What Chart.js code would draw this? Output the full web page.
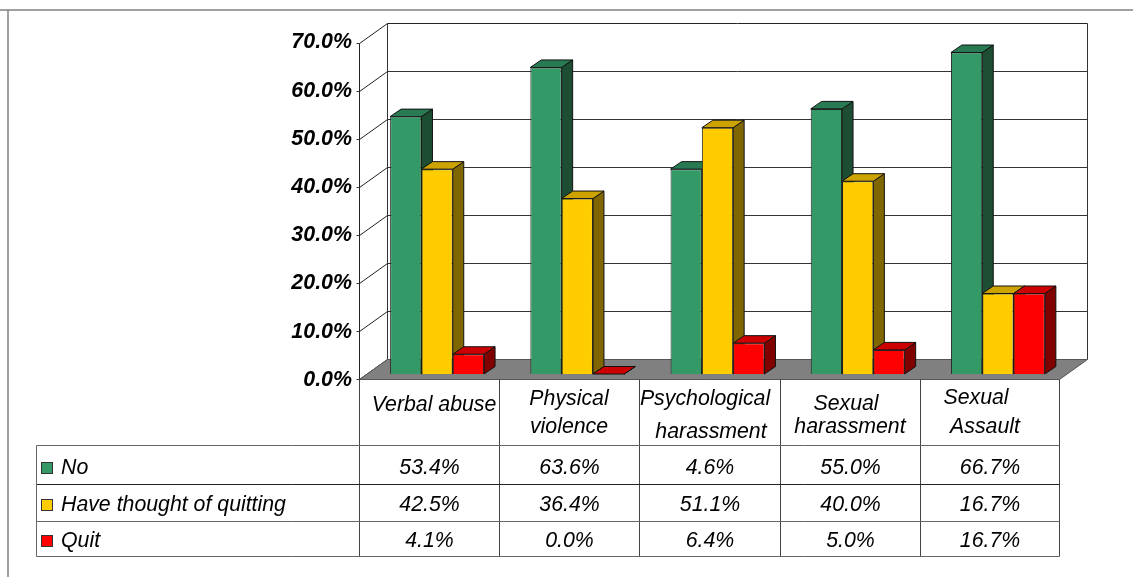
<!DOCTYPE html>
<html><head><meta charset="utf-8">
<style>html,body{margin:0;padding:0;background:#fff}canvas{display:block}</style>
<script src="https://cdn.jsdelivr.net/npm/chart.js@4"></script>
</head><body><canvas id="c" width="1133" height="577"></canvas>
<script>
const categories = ['Verbal abuse','Physical violence','Psychological harassment','Sexual harassment','Sexual Assault'];
const seriesNames = ['No','Have thought of quitting','Quit'];
const noValues = [53.4,63.6,42.5,55.0,66.7];
const thoughtValues = [42.5,36.4,51.1,40.0,16.7];
const quitValues = [4.1,0.0,6.4,5.0,16.7];
const noTable = ['53.4%','63.6%','4.6%','55.0%','66.7%'];
const thoughtTable = ['42.5%','36.4%','51.1%','40.0%','16.7%'];
const quitTable = ['4.1%','0.0%','6.4%','5.0%','16.7%'];
const categoryLines = [['Verbal abuse'],['Physical','violence'],['Psychological','harassment'],['Sexual','harassment'],['Sexual','Assault']];

// layout of the 3D box and table
const catX = [[434],[569,569],[705,711],[846,850],[976,985]];
const catY = [[405.5],[399,427.5],[399,432],[404.5,427],[398,427]];
const front = {dx:-8, dy:5}, back = {dx:20, dy:-15}, depth = {dx:11, dy:-7.5};
const wallRatio = 4.8/4.82;
const rowY = [445.5,484.5,521.5,556.5], colX = [359.5,499.5,639.5,780.5,920.5,1059.5];
const tableLeft = 36.5;
const rowText = [467,504,540];
const FONT = 'Liberation Sans, Arial, sans-serif';
const tableFont = 'italic 21.3px '+FONT;

const shade = {'#339966':['#1d4d33','#287a52'],'#FFCC00':['#806600','#cca300'],'#FF0000':['#800000','#cc0000']};

function line(ctx,x1,y1,x2,y2,c,w){ctx.strokeStyle=c||'#000';ctx.lineWidth=w||1;ctx.beginPath();ctx.moveTo(x1,y1);ctx.lineTo(x2,y2);ctx.stroke();}
function poly(ctx,pts,fill,stroke){ctx.beginPath();pts.forEach((p,i)=>i?ctx.lineTo(p[0],p[1]):ctx.moveTo(p[0],p[1]));ctx.closePath();ctx.fillStyle=fill;ctx.fill();ctx.strokeStyle=stroke;ctx.lineWidth=1;ctx.stroke();}

const box3d = {
  id:'box3d',
  beforeDatasetsDraw(chart){
    const ctx=chart.ctx,y=chart.scales.y,a=chart.chartArea;
    const y0=y.getPixelForValue(0);
    const wall=(v,off)=>Math.round(y0+(y.getPixelForValue(v)-y0)*wallRatio+off)+.5;
    const fl=Math.round(a.left+front.dx)+.5, fr=Math.round(a.right+front.dx-1)+.5;
    const bl=Math.round(a.left+back.dx)+.5, br=Math.round(a.right+back.dx-1)+.5;
    ctx.save();
    // outer frame
    line(ctx,0,10,1133,10,'#808080',1.5);
    line(ctx,8,10,8,577,'#808080',1.5);
    // back wall and grid
    y.ticks.forEach(t=>{
      const fy=wall(t.value,front.dy), by=wall(t.value,back.dy);
      line(ctx,fl-3,fy,fl,fy,'#333');
      line(ctx,fl,fy,bl,by,'#222');
      if(t.value>0) line(ctx,bl,by,br,by,t.value===70?'#222':'#333');
    });
    const f0=wall(0,front.dy), b0=wall(0,back.dy), f7=wall(70,front.dy), b7=wall(70,back.dy);
    line(ctx,fl,f7,fl,f0,'#222');
    line(ctx,bl,b7,bl,b0,'#333');
    line(ctx,br,b7,br,b0,'#333');
    poly(ctx,[[fl,f0],[fr,f0],[br,b0],[bl,b0]],'#808080','#555');
    // bars left to right
    const metas=chart.data.datasets.map((d,i)=>chart.getDatasetMeta(i));
    chart.data.labels.forEach((_,i)=>{
      metas.forEach((m,s)=>{
        const el=m.data[i];
        const col=chart.data.datasets[s].backgroundColor;
        const h=el.getProps(['x','y','base','width'],true);
        const L=h.x-h.width/2,R=h.x+h.width/2,T=h.y,B=h.base;
        poly(ctx,[[R,T],[R+depth.dx,T+depth.dy],[R+depth.dx,B+depth.dy],[R,B]],shade[col][0],'#111');
        poly(ctx,[[L,T],[R,T],[R+depth.dx,T+depth.dy],[L+depth.dx,T+depth.dy]],shade[col][1],'#111');
        if(B-T>0.5) el.draw(ctx);
      });
    });
    ctx.restore();
    return false;
  },
  afterDraw(chart){
    const ctx=chart.ctx,y=chart.scales.y;
    ctx.save();
    // table grid
    colX.forEach(x=>line(ctx,x,Math.round(y.getPixelForValue(0)+front.dy)+.5,x,rowY[3],'#444'));
    rowY.forEach((ry,i)=>line(ctx,tableLeft,ry,colX[5],ry,i==1?'#222':'#666'));
    line(ctx,tableLeft,rowY[0],tableLeft,rowY[3],'#666');
    // category text
    ctx.fillStyle='#000';ctx.font=tableFont;ctx.textAlign='center';ctx.textBaseline='middle';
    categoryLines.forEach((ls,i)=>{
      ls.forEach((s,j)=>ctx.fillText(s,catX[i][j],catY[i][j]));
    });
    // rows
    const rows=[noTable,thoughtTable,quitTable];
    chart.data.datasets.forEach((d,r)=>{
      ctx.fillStyle=d.backgroundColor;ctx.strokeStyle='#333';ctx.lineWidth=1;
      ctx.fillRect(41.5,rowText[r]-4.5,11,11);ctx.strokeRect(41.5,rowText[r]-4.5,11,11);
      ctx.fillStyle='#000';ctx.textAlign='left';
      ctx.fillText(d.label,61,rowText[r]+1);
      ctx.textAlign='center';
      rows[r].forEach((s,i)=>ctx.fillText(s,(colX[i]+colX[i+1])/2,rowText[r]+1));
    });
    ctx.restore();
  }
};

new Chart(document.getElementById('c'),{
  type:'bar',
  data:{labels:categories,datasets:[
    {label:seriesNames[0],data:noValues,backgroundColor:'#339966',borderColor:'#222',borderWidth:1},
    {label:seriesNames[1],data:thoughtValues,backgroundColor:'#FFCC00',borderColor:'#222',borderWidth:1},
    {label:seriesNames[2],data:quitValues,backgroundColor:'#FF0000',borderColor:'#222',borderWidth:1}
  ]},
  plugins:[box3d],
  options:{
    responsive:false,animation:false,
    layout:{padding:{top:36.6,right:65,bottom:203,left:0}},
    plugins:{legend:{display:false},tooltip:{enabled:false},title:{display:false}},
    datasets:{bar:{categoryPercentage:0.67,barPercentage:1}},
    scales:{
      x:{display:false},
      y:{min:0,max:70,
        afterFit(s){s.width=367;},
        grid:{display:false,drawTicks:false},border:{display:false},
        ticks:{stepSize:10,padding:15,labelOffset:6,color:'#000',
          font:{family:FONT,size:21.4,style:'italic',weight:'bold'},
          callback:v=>v.toFixed(1)+'%'}
      }
    }
  }
});
</script></body></html>
